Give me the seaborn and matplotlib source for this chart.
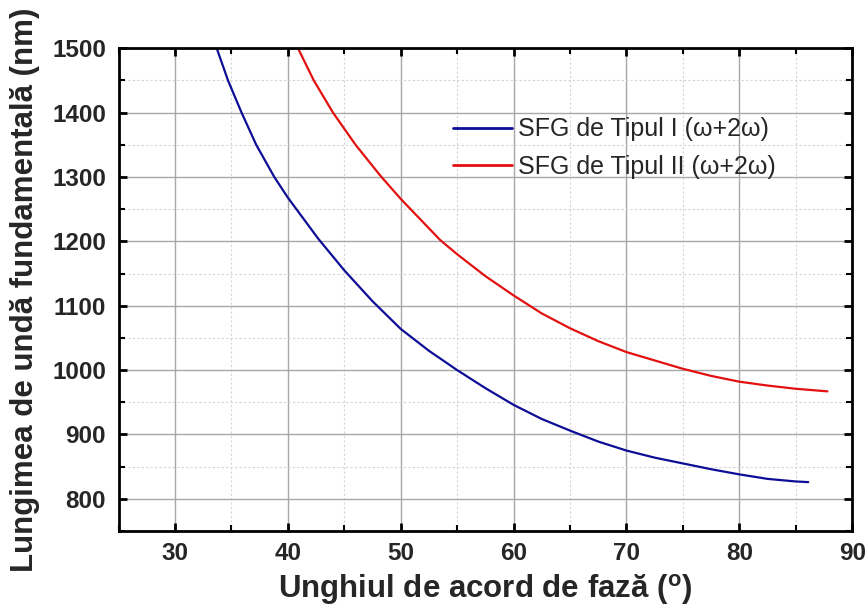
import pandas as pd
import matplotlib
matplotlib.use("Agg")
import matplotlib.pyplot as plt
from matplotlib.ticker import MultipleLocator
import seaborn as sns

# values
type1_angle = [33.7, 34.7, 35.9, 37.2, 38.8, 40.0, 42.7, 45.0, 47.5, 50.0,
               52.5, 55.0, 57.5, 60.0, 62.5, 65.0, 67.5, 70.0, 72.5, 75.0,
               77.5, 80.0, 82.5, 85.0, 86.1]
type1_wl = [1500, 1450, 1400, 1350, 1300, 1268, 1204, 1155, 1107, 1064,
            1030, 1000, 972, 946, 924, 906, 889, 875, 864, 855,
            846, 838, 831, 827, 826]

type2_angle = [40.9, 42.3, 44.0, 46.0, 48.2, 50.0, 53.5, 55.0, 57.5, 60.0,
               62.5, 65.0, 67.5, 70.0, 72.5, 75.0, 77.5, 80.0, 82.5, 85.0,
               87.8]
type2_wl = [1500, 1450, 1400, 1350, 1302, 1266, 1202, 1180, 1146, 1116,
            1088, 1065, 1045, 1028, 1015, 1002, 991, 982, 976, 971,
            967]

label1 = "SFG de Tipul I (ω+2ω)"
label2 = "SFG de Tipul II (ω+2ω)"

df = pd.concat([
    pd.DataFrame({"angle": type1_angle, "wl": type1_wl, "series": label1}),
    pd.DataFrame({"angle": type2_angle, "wl": type2_wl, "series": label2}),
], ignore_index=True)

sns.set_style("white")
plt.rcParams["font.family"] = ["Liberation Sans", "DejaVu Sans"]
plt.rcParams["mathtext.fontset"] = "custom"
plt.rcParams["mathtext.bf"] = "Liberation Sans:bold"
plt.rcParams["mathtext.rm"] = "Liberation Sans:bold"

fig = plt.figure(figsize=(8.67, 6.08), dpi=100)
ax = fig.add_axes([0.1367, 0.1266, 0.8463, 0.794])

sns.lineplot(data=df, x="angle", y="wl", hue="series", sort=False,
             palette={label1: "#0d0d96", label2: "#e31010"},
             linewidth=1.6, ax=ax)
for line in ax.get_lines():
    line.set_solid_joinstyle("round")

ax.set_xlim(25, 90)
ax.set_ylim(750, 1500)
ax.xaxis.set_major_locator(MultipleLocator(10))
ax.xaxis.set_minor_locator(MultipleLocator(5))
ax.yaxis.set_major_locator(MultipleLocator(100))
ax.yaxis.set_minor_locator(MultipleLocator(50))
ax.set_yticks(range(800, 1501, 100))

ax.grid(which="major", color="#a8a8a8", linewidth=1.0, linestyle="-")
ax.grid(which="minor", color="#d4d4d4", linewidth=0.8, linestyle=(0, (2, 2)))
ax.set_axisbelow(True)

for s in ax.spines.values():
    s.set_linewidth(2.0)
    s.set_color("black")

ax.tick_params(which="both", direction="in", top=True, right=True,
               bottom=True, left=True, color="black")
ax.tick_params(which="major", length=6, width=2, labelsize=17.5, pad=8)
ax.tick_params(axis="y", which="major", pad=9)
ax.tick_params(which="minor", length=4, width=1.5)
for lab in ax.get_xticklabels() + ax.get_yticklabels():
    lab.set_fontweight("bold")

ax.set_xlabel(r"Unghiul de acord de fază ($^{\mathbf{o}}$)", fontsize=22.5,
              fontweight="bold", labelpad=5)
ax.set_ylabel("Lungimea de undă fundamentală (nm)", fontsize=22.5,
              fontweight="bold", labelpad=9)

leg = ax.legend(loc="upper left", bbox_to_anchor=(0.456, 0.857), frameon=False,
                fontsize=18, handlelength=2.35, handletextpad=0.25,
                labelspacing=0.55, borderpad=0, borderaxespad=0)
for line in leg.get_lines():
    line.set_linewidth(2.0)

fig.savefig("out.png", dpi=100)
